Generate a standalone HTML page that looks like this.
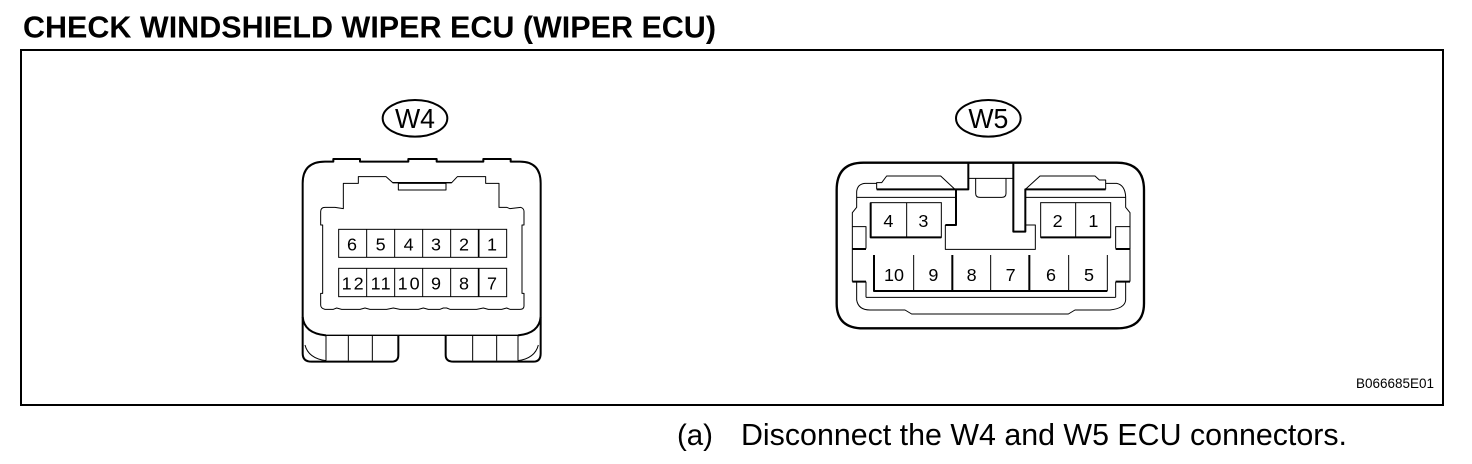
<!DOCTYPE html>
<html><head><meta charset="utf-8"><style>
html,body{margin:0;padding:0;background:#fff}
svg{display:block}
text{font-family:"Liberation Sans",sans-serif;fill:#000}
.d text{font-size:54px;text-anchor:middle}
.k{fill:none;stroke:#000;stroke-width:6;stroke-linejoin:round}
.t{fill:none;stroke:#000;stroke-width:3;stroke-linejoin:round}
</style></head><body>
<svg width="1472" height="464" viewBox="0 0 1472 464" xmlns="http://www.w3.org/2000/svg">
<rect width="1472" height="464" fill="#fff"/>
<text x="23" y="37.5" font-size="30.8" font-weight="bold" textLength="693" lengthAdjust="spacingAndGlyphs">CHECK WINDSHIELD WIPER ECU (WIPER ECU)</text>
<rect x="21" y="50" width="1422" height="355" fill="none" stroke="#000" stroke-width="2"/>
<text x="1356" y="388" font-size="13.5" textLength="78" lengthAdjust="spacingAndGlyphs">B066685E01</text>
<text x="677" y="445" font-size="30" textLength="36" lengthAdjust="spacingAndGlyphs">(a)</text>
<text x="741" y="445" font-size="30.3" textLength="606" lengthAdjust="spacingAndGlyphs">Disconnect the W4 and W5 ECU connectors.</text>

<g transform="translate(280,90) scale(.33333)">
<ellipse cx="405" cy="85" rx="97" ry="55" class="k"/>
<text x="345" y="114" font-size="84" textLength="120" lengthAdjust="spacingAndGlyphs">W4</text>
<path class="k" d="M68 680V280Q68 215 135 215H160V207H240V215H385V207H470V215H610V207H692V215H720Q782 215 782 280V680"/>
<path class="k" d="M68 680Q72 730 138 736M782 680Q778 730 714 736"/>
<path d="M138 736H714" fill="none" stroke="#000" stroke-width="4"/>
<path class="k" d="M68 680V790Q68 815 95 815H335Q355 815 355 795V736M497 736V795Q497 815 520 815H760Q782 815 782 790V680"/>
<path class="t" d="M75 765Q85 805 138 812M775 765Q765 805 714 812M138 736V812M205 736V812M277 736V812M578 736V812M650 736V812M714 736V812"/>
<path class="t" d="M190 352V280H235V260H318L338 278H515L532 260H617V280H657V352H680L690 356L722 352Q732 355 732 365V405H726V610H732V648Q732 658 720 658H690L680 654L665 658H625L610 654L590 658H510L500 654H490L480 658H445L430 654L415 658H360L340 654L320 658H270L255 654L240 658H185L170 654L160 658H135Q122 655 122 645V610H128V405H122V365Q122 352 135 352H165L190 356Z"/>
<rect x="355" y="280" width="143" height="20" class="t"/>
<path class="k" d="M338 278H515" style="stroke-width:4"/>
<g fill="none" stroke="#000" stroke-width="3">
<rect x="176" y="418" width="504" height="84"/><rect x="176" y="535" width="504" height="85"/>
<path d="M260 418V502M344 418V502M428 418V502M512 418V502M260 535V620M344 535V620M428 535V620M512 535V620"/>
<path stroke-width="5" d="M596 418V502M596 535V620"/>
</g>
<g class="d">
<text x="216" y="481">6</text><text x="302" y="481">5</text><text x="386" y="481">4</text><text x="468" y="481">3</text><text x="552" y="481">2</text><text x="636" y="481">1</text>
<text x="218" y="598" textLength="66" lengthAdjust="spacing">12</text><text x="302" y="598" textLength="60" lengthAdjust="spacing">11</text><text x="386" y="598" textLength="66" lengthAdjust="spacing">10</text><text x="468" y="598">9</text><text x="552" y="598">8</text><text x="636" y="598">7</text>
</g>
</g>

<g transform="translate(820,90) scale(.33333)">
<ellipse cx="505" cy="85" rx="97" ry="55" class="k"/>
<text x="445" y="114" font-size="84" textLength="120" lengthAdjust="spacingAndGlyphs">W5</text>
<path d="M50 300Q50 218 130 218H890Q972 218 972 300V640Q972 715 890 715H130Q50 715 50 640Z" fill="none" stroke="#000" stroke-width="7"/>
<path class="k" d="M170 298H445V220M580 220V425H616V298H857M408 298V405H376"/>
<path class="t" d="M170 298V278H185L200 258H362L405 298M616 298L660 258H825L838 270H857V298"/>
<path class="t" d="M445 265H580M467 265V310Q467 322 480 322H545Q558 322 558 310V265M376 405V478H646V405H616"/>
<path class="t" d="M170 280H135Q112 282 110 305V352L97 368V478M857 280H890Q915 285 917 320V352L930 368V478M110 322H405M616 322H917"/>
<path class="t" d="M97 410H138V476M930 410H887V476M138 575V622M887 575V622"/>
<path class="k" d="M97 477H138M930 477H887M97 575H138M930 575H887"/>
<path class="t" d="M97 478V575M930 478V575M138 622H887M110 575V630Q115 660 150 660H255L275 672H745L765 660H870Q915 655 917 630V575"/>
<rect x="152" y="338" width="212" height="104" fill="none" stroke="#000" stroke-width="3"/>
<rect x="662" y="338" width="210" height="104" fill="none" stroke="#000" stroke-width="3"/>
<path class="k" d="M152 338V442H364M662 442H872"/>
<path class="t" d="M260 338V442M767 338V442M281 495V603M512 495V603M746 495V603M862 495V603"/>
<path class="k" d="M162 495V603H862M397 495V603M628 495V603"/>
<g class="d">
<text x="205" y="411">4</text><text x="310" y="411">3</text><text x="713" y="411">2</text><text x="820" y="411">1</text>
<text x="222" y="573">10</text><text x="340" y="573">9</text><text x="455" y="573">8</text><text x="572" y="573">7</text><text x="693" y="573">6</text><text x="807" y="573">5</text>
</g>
</g>
</svg>
</body></html>
